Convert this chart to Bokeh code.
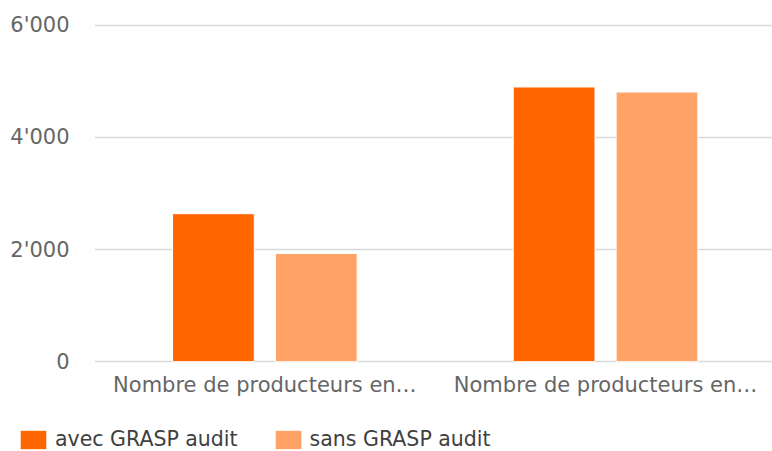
from bokeh.plotting import figure
from bokeh.layouts import column
from bokeh.models import Range1d, FixedTicker, ColumnDataSource, Legend, LegendItem
from bokeh.transform import dodge
from bokeh.embed import file_html
from bokeh.resources import INLINE

categories = ["Nombre de producteurs en…", "Nombre de producteurs en…"]
series_names = ["avec GRASP audit", "sans GRASP audit"]
avec = [2640, 4900]
sans = [1930, 4810]
y_ticks = [0, 2000, 4000, 6000]
y_tick_labels = ["0", "2'000", "4'000", "6'000"]
colors = ["#FF6600", "#FFA366"]

x_centers = [i + 0.5 for i in range(len(categories))]
source = ColumnDataSource(dict(x=x_centers, avec=avec, sans=sans))

p = figure(width=772, height=407, output_backend="svg", toolbar_location=None,
           x_range=Range1d(0, 1.99), y_range=Range1d(-50, 6050),
           min_border_left=94, min_border_right=0, min_border_top=22,
           min_border_bottom=43)
p.frame_align = False
p.outline_line_color = None
p.background_fill_color = "white"
p.border_fill_color = "white"

r1 = p.vbar(x=dodge("x", -0.151), top="avec", bottom=0, width=0.24, source=source,
            fill_color=colors[0], line_color="white", line_width=1)
r2 = p.vbar(x=dodge("x", 0.151), top="sans", bottom=0, width=0.24, source=source,
            fill_color=colors[1], line_color="white", line_width=1)

p.xaxis.ticker = FixedTicker(ticks=x_centers)
p.xaxis.major_label_overrides = {x: c for x, c in zip(x_centers, categories)}
p.yaxis.ticker = FixedTicker(ticks=y_ticks)
p.yaxis.major_label_overrides = {t: l for t, l in zip(y_ticks, y_tick_labels)}
for ax in (p.xaxis, p.yaxis):
    ax.axis_line_color = None
    ax.major_tick_line_color = None
    ax.minor_tick_line_color = None
    ax.major_tick_out = 0
    ax.major_tick_in = 0
    ax.major_label_text_font = "DejaVu Sans"
    ax.major_label_text_font_size = "21px"
    ax.major_label_text_color = "#666666"
p.yaxis.major_label_standoff = 25
p.xaxis.major_label_standoff = 8

p.xgrid.grid_line_color = None
p.ygrid.ticker = FixedTicker(ticks=y_ticks)
p.ygrid.grid_line_color = "#d9d9d9"
p.ygrid.grid_line_width = 1.5
p.ygrid.level = "underlay"

# legend strip (its own small figure below the chart)
leg = figure(width=772, height=44, output_backend="svg", toolbar_location=None,
             x_range=Range1d(0, 1), y_range=Range1d(0, 1),
             x_axis_location=None, y_axis_location=None,
             min_border=0, min_border_left=0, min_border_right=0,
             min_border_top=0, min_border_bottom=0)
leg.frame_align = False
leg.outline_line_color = None
leg.xgrid.grid_line_color = None
leg.ygrid.grid_line_color = None
k1 = leg.vbar(x="x", top="avec", width=0.1, source=source,
              fill_color=colors[0], line_color=None, visible=False)
k2 = leg.vbar(x="x", top="sans", width=0.1, source=source,
              fill_color=colors[1], line_color=None, visible=False)
legend = Legend(items=[LegendItem(label=series_names[0], renderers=[k1]),
                       LegendItem(label=series_names[1], renderers=[k2])],
                orientation="horizontal", location=(17, 0),
                glyph_width=32, glyph_height=23, label_standoff=6, spacing=34,
                padding=0, margin=0, border_line_color=None,
                background_fill_alpha=0, inactive_fill_alpha=0,
                label_text_font="DejaVu Sans", label_text_font_size="20.5px",
                label_text_color="#404040")
leg.add_layout(legend, "center")

open("out.html", "w").write(file_html(column(p, leg, spacing=0), INLINE))
